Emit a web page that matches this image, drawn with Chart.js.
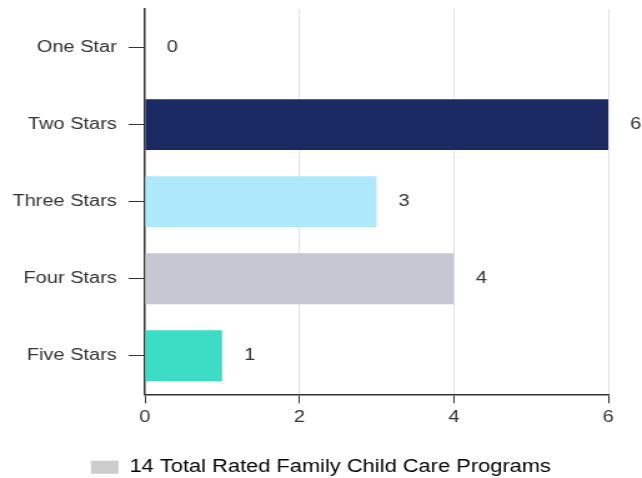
<!DOCTYPE html>
<html>
<head>
<meta charset="utf-8">
<script src="https://cdn.jsdelivr.net/npm/chart.js@4/dist/chart.umd.min.js"></script>
<style>
  html, body { margin: 0; padding: 0; background: #fff; overflow: hidden; }
  #wrap { width: 514px; height: 478px; transform: scaleX(1.249); transform-origin: 0 0; }
</style>
</head>
<body>
<div id="wrap"><canvas id="c" width="514" height="478" style="width:514px;height:478px"></canvas></div>
<script>
const categories = ["One Star", "Two Stars", "Three Stars", "Four Stars", "Five Stars"];
const values = [0, 6, 3, 4, 1];
const barColors = ["#1c2a63", "#1c2a63", "#aee8fb", "#c5c8d3", "#3ddcc5"];
const xTicks = [0, 2, 4, 6];
const legendLabel = "14 Total Rated Family Child Care Programs";
const legendColor = "#cccccc";

const FONT = "'Liberation Sans', Arial, sans-serif";

const valueLabels = {
  id: 'valueLabels',
  afterDatasetsDraw(chart) {
    const ctx = chart.ctx;
    const meta = chart.getDatasetMeta(0);
    ctx.save();
    ctx.font = "16px " + FONT;
    ctx.fillStyle = "#333";
    ctx.textAlign = "center";
    ctx.textBaseline = "middle";
    meta.data.forEach((bar, i) => {
      ctx.fillText(String(values[i]), bar.x + 22, bar.y);
    });
    ctx.restore();
  }
};

new Chart(document.getElementById('c'), {
  type: 'bar',
  data: {
    labels: categories,
    datasets: [{
      label: legendLabel,
      data: values,
      backgroundColor: barColors,
      borderWidth: 0,
      barPercentage: 0.66,
      categoryPercentage: 1
    }]
  },
  options: {
    indexAxis: 'y',
    responsive: false,
    animation: false,
    devicePixelRatio: 1,
    layout: { padding: { top: 9, right: 0, left: 0, bottom: -8 } },
    scales: {
      x: {
        min: 0, max: 6,
        afterBuildTicks(scale) { scale.ticks = xTicks.map(v => ({ value: v })); },
        afterFit(scale) { scale.height += 26; scale.paddingRight = 27; },
        grid: {
          color: ctx => (ctx.index === 0 ? 'rgba(0,0,0,0)' : '#e2e2e2'),
          lineWidth: 1,
          tickColor: '#333',
          tickLength: 9,
          drawTicks: true
        },
        border: { color: '#333', width: 1.5 },
        ticks: { color: '#333', font: { family: FONT, size: 16 }, padding: 5 }
      },
      y: {
        afterFit(scale) { scale.width = 116; scale.paddingTop = 0; scale.paddingBottom = 0; },
        grid: {
          offset: false,
          drawOnChartArea: false,
          tickColor: '#333',
          tickLength: 13
        },
        border: { color: '#333', width: 1.5 },
        ticks: { color: '#333', font: { family: FONT, size: 16 }, padding: 9.5 }
      }
    },
    plugins: {
      tooltip: { enabled: false },
      legend: {
        position: 'bottom',
        labels: {
          boxWidth: 22,
          boxHeight: 13,
          color: '#333',
          font: { family: FONT, size: 17.5 },
          padding: 0,
          generateLabels() {
            return [{ text: legendLabel, fillStyle: legendColor, strokeStyle: legendColor, lineWidth: 0, hidden: false, datasetIndex: 0 }];
          }
        },
        onClick() {}
      }
    }
  },
  plugins: [valueLabels]
});
</script>
</body>
</html>
